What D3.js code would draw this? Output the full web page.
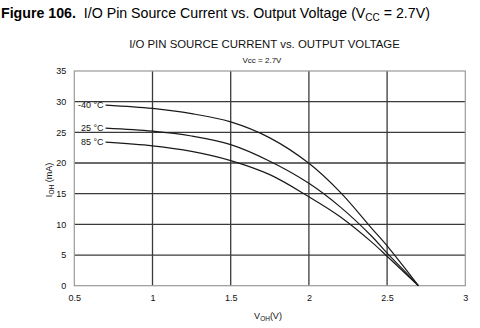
<!DOCTYPE html>
<html><head><meta charset="utf-8">
<script src="https://cdn.jsdelivr.net/npm/d3@7"></script>
<style>
body{margin:0;background:#fff;}
svg{display:block;font-family:"Liberation Sans",Arial,Helvetica,sans-serif;}
</style></head><body>
<svg id="c" width="480" height="328"></svg>
<script>
const voltage = [0.7, 1.0, 1.25, 1.5, 1.75, 2.0, 2.2, 2.4, 2.5, 2.6, 2.7];
const iM40 = [29.45, 28.9, 28.05, 26.7, 24.1, 19.95, 15.25, 9.4, 6.5, 3.3, 0];
const i25  = [25.7, 25.2, 24.4, 23.0, 20.3, 16.7, 12.85, 8.1, 5.3, 2.7, 0];
const i85  = [23.4, 22.8, 21.9, 20.4, 18.1, 14.5, 11.25, 7.15, 4.8, 2.4, 0];
const seriesLabels = ["-40 °C", "25 °C", "85 °C"];
const xTicks = [0.5, 1, 1.5, 2, 2.5, 3];
const yTicks = [0, 5, 10, 15, 20, 25, 30, 35];

const svg = d3.select("#c");
const x = d3.scaleLinear().domain([0.5, 3]).range([74.3, 465.3]);
const y = d3.scaleLinear().domain([0, 35]).range([285.7, 71]);

// figure caption
const cap = svg.append("text").attr("x", 1).attr("y", 18).attr("font-size", 14.2).attr("fill", "#000");
cap.append("tspan").attr("font-weight", "bold").text("Figure 106.");
cap.append("tspan").text("\u00a0 I/O Pin Source Current vs. Output Voltage (V");
cap.append("tspan").attr("font-size", 10).attr("dy", 3).text("CC");
cap.append("tspan").attr("dy", -3).text(" = 2.7V)");

svg.append("text").attr("x", 264.5).attr("y", 47.5).attr("text-anchor", "middle")
  .attr("font-size", 11.4).attr("fill", "#111").text("I/O PIN SOURCE CURRENT vs. OUTPUT VOLTAGE");
svg.append("text").attr("x", 262).attr("y", 63).attr("text-anchor", "middle")
  .attr("font-size", 8).attr("fill", "#111").text("Vcc = 2.7V");

// grid
const g = svg.append("g");
g.selectAll(".gx").data(xTicks.slice(1, -1)).join("line")
  .attr("x1", d => x(d)).attr("x2", d => x(d)).attr("y1", y(35)).attr("y2", y(0))
  .attr("stroke", "#3a3a3a").attr("stroke-width", 1.3);
g.selectAll(".gy").data(yTicks.slice(1, -1)).join("line")
  .attr("x1", x(0.5)).attr("x2", x(3)).attr("y1", d => y(d)).attr("y2", d => y(d))
  .attr("stroke", "#3a3a3a").attr("stroke-width", 1.3);
g.append("rect").attr("x", x(0.5)).attr("y", y(35)).attr("width", x(3) - x(0.5)).attr("height", y(0) - y(35))
  .attr("fill", "none").attr("stroke", "#999").attr("stroke-width", 1.2);

// axes labels (tick text via d3 axes)
const yAxis = svg.append("g").attr("transform", `translate(${x(0.5)},0)`)
  .call(d3.axisLeft(y).tickValues(yTicks).tickSize(0).tickPadding(8).tickFormat(d3.format("d")));
yAxis.select(".domain").remove();
yAxis.selectAll("text").attr("font-size", 9).attr("fill", "#111").attr("font-family", "Liberation Sans, Arial, sans-serif");

const xAxis = svg.append("g").attr("transform", `translate(0,${y(0)})`)
  .call(d3.axisBottom(x).tickValues(xTicks).tickSize(0).tickPadding(9).tickFormat(d => String(d)));
xAxis.select(".domain").remove();
xAxis.selectAll("text").attr("font-size", 9).attr("fill", "#111").attr("font-family", "Liberation Sans, Arial, sans-serif");

const xl = svg.append("text").attr("x", 268).attr("y", 319).attr("text-anchor", "middle").attr("font-size", 9).attr("fill", "#111");
xl.append("tspan").text("V");
xl.append("tspan").attr("font-size", 6.5).attr("dy", 2).text("OH");
xl.append("tspan").attr("dy", -2).text("(V)");

const yl = svg.append("text").attr("transform", "translate(52,180) rotate(-90)").attr("text-anchor", "middle").attr("font-size", 9).attr("fill", "#111");
yl.append("tspan").text("I");
yl.append("tspan").attr("font-size", 6.5).attr("dy", 2).text("OH");
yl.append("tspan").attr("dy", -2).text(" (mA)");

// curves
const series = [iM40, i25, i85];
const line = d3.line().x((d, i) => x(voltage[i])).y(d => y(d)).curve(d3.curveCatmullRom.alpha(0.5));
svg.selectAll(".curve").data(series).join("path")
  .attr("d", d => line(d)).attr("fill", "none").attr("stroke", "#1a1a1a").attr("stroke-width", 1.2);

svg.selectAll(".lbl").data(series).join("text")
  .attr("x", x(voltage[0]) - 2).attr("y", d => y(d[0])).attr("dy", "0.35em")
  .attr("text-anchor", "end").attr("font-size", 9).attr("fill", "#111")
  .text((d, i) => seriesLabels[i]);
</script>
</body></html>
